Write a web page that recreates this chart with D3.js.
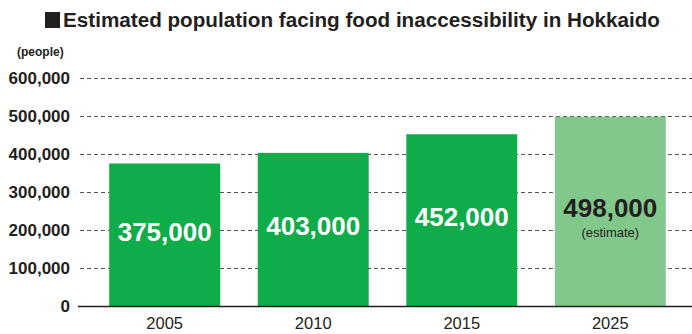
<!DOCTYPE html>
<html>
<head>
<meta charset="utf-8">
<script src="https://cdn.jsdelivr.net/npm/d3@7"></script>
<style>
  html, body { margin: 0; padding: 0; background: #fff; }
  svg { display: block; font-family: "Liberation Sans", Arial, Helvetica, sans-serif; }
</style>
</head>
<body>
<svg id="chart" width="692" height="334"></svg>
<script>
// Data
const years = ["2005", "2010", "2015", "2025"];
const population = [375000, 403000, 452000, 498000];
const isEstimate = [false, false, false, true];
const valueLabels = ["375,000", "403,000", "452,000", "498,000"];
const yTicks = [0, 100000, 200000, 300000, 400000, 500000, 600000];

const svg = d3.select("#chart");
const ink = "#231f20";
const font = "\"Liberation Sans\", Arial, sans-serif";

const x = d3.scaleBand()
  .domain(years)
  .range([81, 694])
  .paddingInner(0.253)
  .paddingOuter(0.19);

const y = d3.scaleLinear()
  .domain([0, 600000])
  .range([306, 78]);

// Title with square marker
svg.append("rect")
  .attr("x", 45).attr("y", 12)
  .attr("width", 15).attr("height", 16)
  .attr("fill", ink);
svg.append("text")
  .attr("x", 63).attr("y", 27)
  .attr("font-size", 20)
  .attr("font-weight", "bold")
  .attr("fill", ink)
  .attr("textLength", 597)
  .attr("lengthAdjust", "spacingAndGlyphs")
  .text("Estimated population facing food inaccessibility in Hokkaido");

// Unit label
svg.append("text")
  .attr("x", 17).attr("y", 56)
  .attr("font-size", 12)
  .attr("font-weight", "bold")
  .attr("fill", ink)
  .text("(people)");

// Y axis labels
const yAxis = d3.axisLeft(y)
  .tickValues(yTicks)
  .tickFormat(d3.format(","))
  .tickSize(0)
  .tickPadding(8);

const yg = svg.append("g")
  .attr("transform", "translate(78,0)")
  .call(yAxis);
yg.select(".domain").remove();
yg.selectAll("text")
  .attr("font-size", 17)
  .attr("font-weight", "bold")
  .attr("fill", ink)
  .attr("font-family", font);

// Dashed gridlines
svg.append("g")
  .selectAll("line")
  .data(yTicks.filter(d => d > 0))
  .join("line")
  .attr("x1", 80).attr("x2", 692)
  .attr("y1", d => Math.round(y(d)) + 0.5)
  .attr("y2", d => Math.round(y(d)) + 0.5)
  .attr("stroke", "#555")
  .attr("stroke-width", 1)
  .attr("stroke-dasharray", "4,3");

// Bars
svg.append("g")
  .selectAll("rect")
  .data(years)
  .join("rect")
  .attr("x", d => x(d))
  .attr("y", (d, i) => y(population[i]))
  .attr("width", x.bandwidth())
  .attr("height", (d, i) => y(0) - y(population[i]))
  .attr("fill", (d, i) => isEstimate[i] ? "#82c88b" : "#0fac4a");

// Baseline
svg.append("line")
  .attr("x1", 78).attr("x2", 692)
  .attr("y1", y(0) + 0.5).attr("y2", y(0) + 0.5)
  .attr("stroke", ink)
  .attr("stroke-width", 1.5);

// X axis labels
const xAxis = d3.axisBottom(x).tickSize(0).tickPadding(11);
const xg = svg.append("g")
  .attr("transform", `translate(0,${y(0)})`)
  .call(xAxis);
xg.select(".domain").remove();
xg.selectAll("text")
  .attr("font-size", 16.5)
  .attr("fill", ink)
  .attr("font-family", font);

// Value labels inside bars
const labels = svg.append("g");
years.forEach((yr, i) => {
  const cx = x(yr) + x.bandwidth() / 2;
  const mid = (y(population[i]) + y(0)) / 2 - 2;
  labels.append("text")
    .attr("x", cx)
    .attr("y", mid + 8)
    .attr("text-anchor", "middle")
    .attr("font-size", 26)
    .attr("font-weight", "bold")
    .attr("fill", isEstimate[i] ? ink : "#fff")
    .text(valueLabels[i]);
  if (isEstimate[i]) {
    labels.append("text")
      .attr("x", cx)
      .attr("y", mid + 28)
      .attr("text-anchor", "middle")
      .attr("font-size", 13)
      .attr("fill", ink)
      .text("(estimate)");
  }
});
</script>
</body>
</html>
